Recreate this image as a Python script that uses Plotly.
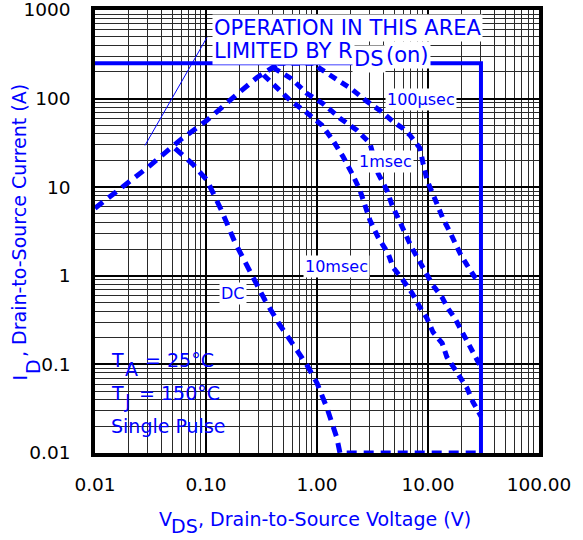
import plotly.graph_objects as go

BLUE = "#0000ff"

# ---------------- data ----------------
X_TICKS = [0.01, 0.1, 1, 10, 100]
X_TICK_TEXT = ["0.01", "0.10", "1.00", "10.00", "100.00"]
Y_TICKS = [0.01, 0.1, 1, 10, 100, 1000]
Y_TICK_TEXT = ["0.01", "0.1", "1", "10", "100", "1000"]

# R_DS(on) limited diagonal (shared by all curves)
DIAG_V = [0.01, 0.03, 0.058, 0.102, 0.164, 0.288, 0.40, 0.44]
DIAG_I = [5.8, 16.8, 33.8, 56.8, 95.5, 173, 225, 250]

# current / voltage limit (solid)
LIMIT_V = [0.01, 30, 30]
LIMIT_I = [250, 250, 0.01]

DC_V = [0.0526, 0.0763, 0.102, 0.139, 0.182, 0.249, 0.340, 0.464, 0.634,
        0.813, 1.0, 1.23, 1.51, 1.61, 30]
DC_I = [27.5, 18.1, 12.0, 5.35, 2.39, 1.10, 0.53, 0.277, 0.157,
        0.098, 0.0615, 0.0322, 0.0148, 0.01, 0.01]

T10MS_V = [0.33, 0.40, 0.56, 0.80, 1.11, 1.39, 1.71, 2.11, 2.44, 3.0, 3.55,
           4.36, 4.84, 5.96, 7.18, 8.47, 9.80, 11.1, 13.4, 14.8, 17.1, 19.4,
           22.5, 25.4, 28.8, 30]
T10MS_I = [185, 145, 98, 70, 50, 33.8, 22.3, 13.6, 9.2, 4.24, 2.72,
           1.80, 1.25, 0.89, 0.64, 0.44, 0.33, 0.231, 0.174, 0.121, 0.093, 0.070,
           0.054, 0.0376, 0.0282, 0.026]

T1MS_V = [0.40, 0.583, 0.813, 1.13, 1.61, 2.29, 3.0, 3.55, 4.27, 4.75, 5.60,
          6.47, 7.18, 8.47, 9.80, 11.1, 13.4, 15.1, 17.5, 19.4, 22.5, 25.4,
          28.2, 30]
T1MS_I = [225, 169, 114, 88, 60, 44, 31.3, 14.3, 9.2, 6.25, 4.02,
          2.65, 2.05, 1.42, 1.02, 0.78, 0.57, 0.43, 0.33, 0.256, 0.178, 0.138,
          0.106, 0.093]

T100US_V = [0.44, 0.95, 1.06, 1.52, 2.07, 2.82, 3.77, 4.84, 5.96, 6.89, 8.47,
            9.02, 9.80, 11.1, 13.6, 15.8, 19.4, 22.5, 26.5, 30]
T100US_I = [250, 250, 219, 165, 127, 93, 72, 55, 46, 38.5, 27.5,
            18.6, 12.0, 8.3, 4.46, 3.10, 1.80, 1.32, 0.96, 0.82]

POINTER_V = [0.0282, 0.102]
POINTER_I = [29.6, 490]

X_MINOR = [m * 10.0 ** e for e in range(-2, 2) for m in range(2, 10)]
Y_MINOR = [m * 10.0 ** e for e in range(-2, 3) for m in range(2, 10)]

# ---------------- figure ----------------
L, R, T, B = 95, 44, 10, 87
W, H = 583, 540
PW, PH = W - L - R, H - T - B


def PX(px):
    return (px - L) / PW


def PY(py):
    return (T + PH - py) / PH


fig = go.Figure()


def curve(xs, ys, width=5, dash="10px,7px", color=BLUE):
    fig.add_trace(go.Scatter(x=xs, y=ys, mode="lines",
                             line=dict(color=color, width=width, dash=dash),
                             hoverinfo="skip", showlegend=False))


curve(DIAG_V, DIAG_I)
curve(DC_V, DC_I)
curve(T10MS_V, T10MS_I, dash="8px,6px")
curve(T1MS_V, T1MS_I, dash="8px,6px")
curve(T100US_V, T100US_I, dash="8px,6px")
curve(LIMIT_V, LIMIT_I, width=4, dash="solid")
curve(POINTER_V, POINTER_I, width=1, dash="solid")

# white box behind the conditions text
fig.add_shape(type="rect", xref="paper", yref="paper",
              x0=0, x1=PX(239), y0=0, y1=PY(337),
              fillcolor="white", line=dict(width=0), layer="between")

FONT = "DejaVu Sans"


def txt(text, px, py, size, xanchor="left", bg=None, angle=0, color=BLUE):
    d = dict(text=text, xref="paper", yref="paper", x=PX(px), y=PY(py),
             xanchor=xanchor, yanchor="middle", showarrow=False,
             font=dict(family=FONT, size=size, color=color),
             textangle=angle, borderpad=1)
    if bg:
        d["bgcolor"] = bg
    fig.add_annotation(**d)


# R_DS(on) note
txt("OPERATION IN THIS AREA", 212, 28, 21, bg="white")
txt("LIMITED BY R", 212, 51, 21, bg="white")
txt("DS", 352, 59, 21, bg="white")
txt("(on)", 384, 55, 21, bg="white")

# curve labels
txt("100µsec", 421, 99, 16, xanchor="center", bg="white")
txt("1msec", 385.5, 161, 16, xanchor="center", bg="white")
txt("10msec", 336, 266, 16, xanchor="center", bg="white")
txt("DC", 232.5, 293, 16, xanchor="center", bg="white")

# conditions
txt("T", 109, 360, 19)
txt("A", 123, 369, 19)
txt("= 25°C", 143, 360, 19)
txt("T", 109, 392.5, 19)
txt("J", 122, 401, 19)
txt("= 150°C", 137, 392.5, 19)
txt("Single Pulse", 109, 425.5, 19)

# axis titles
txt("V", 157, 519, 19)
txt("DS", 169, 526, 19)
txt(", Drain-to-Source Voltage (V)", 196, 519, 19)
txt("I", 19, 377.5, 19, xanchor="center", angle=-90)
txt("D", 33, 367, 19, xanchor="center", angle=-90)
txt(", Drain-to-Source Current (A)", 19, 221, 19, xanchor="center", angle=-90)

axis_common = dict(type="log", showgrid=True, gridcolor="black", gridwidth=2,
                   showline=True, linecolor="black", linewidth=3.5, mirror=True,
                   ticks="", zeroline=False, automargin=False,
                   ticklabeloverflow="allow",
                   tickfont=dict(family=FONT, size=18.5, color="black"))

fig.update_xaxes(range=[-2, 2], tickmode="array", tickvals=X_TICKS,
                 ticktext=X_TICK_TEXT, ticklabelstandoff=12,
                 minor=dict(tickmode="array", tickvals=X_MINOR, showgrid=True,
                            gridcolor="#2a2a2a", gridwidth=1, ticks=""),
                 **axis_common)
fig.update_yaxes(range=[-2, 3], tickmode="array", tickvals=Y_TICKS,
                 ticktext=Y_TICK_TEXT, ticklabelstandoff=17,
                 minor=dict(tickmode="array", tickvals=Y_MINOR, showgrid=True,
                            gridcolor="#2a2a2a", gridwidth=1, ticks=""),
                 **axis_common)

fig.update_layout(width=W, height=H, margin=dict(l=L, r=R, t=T, b=B, autoexpand=False),
                  plot_bgcolor="white", paper_bgcolor="white",
                  font=dict(family=FONT, size=18.5, color="black"),
                  showlegend=False)

fig.write_html("out.html", config={"displayModeBar": False},
               post_script="document.body.style.margin='0px';"
                           "document.body.style.padding='0px';")
